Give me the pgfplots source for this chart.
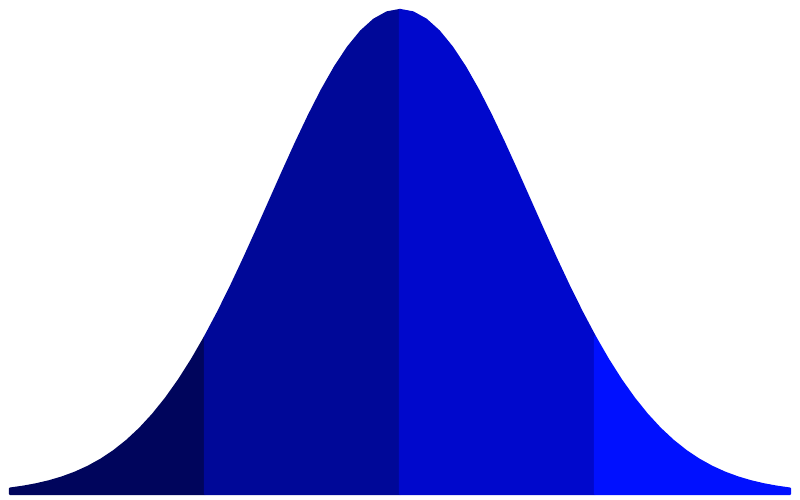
\documentclass[border=0pt]{standalone}
\usepackage{pgfplots}
\pgfplotsset{compat=1.18}

\definecolor{tailL}{HTML}{00055C}
\definecolor{midL}{HTML}{000898}
\definecolor{midR}{HTML}{0008CC}
\definecolor{tailR}{HTML}{0010FF}

\begin{document}
\begin{tikzpicture}
\begin{axis}[
    scale only axis,
    width=10cm, height=6.25cm,
    hide axis,
    xmin=-3.0769, xmax=3.0769,
    ymin=-0.0124, ymax=1.0207,
    clip=false,
]
% left tail (x < -1.5)
\addplot[fill=tailL, draw=tailL, line width=0.8pt, line join=round] coordinates {
    (-3.0,0.01111) (-2.9,0.01492) (-2.8,0.01984) (-2.7,0.02612) (-2.6,0.03405)
    (-2.5,0.04394) (-2.4,0.05613) (-2.3,0.07100) (-2.2,0.08892) (-2.1,0.11025)
    (-2.0,0.13534) (-1.9,0.16447) (-1.8,0.19790) (-1.7,0.23575) (-1.6,0.27804)
    (-1.5,0.32465)
} \closedcycle;
% left middle (-1.5 .. 0)
\addplot[fill=midL, draw=midL, line width=0.8pt, line join=round] coordinates {
    (-1.5,0.32465) (-1.4,0.37531) (-1.3,0.42956) (-1.2,0.48675) (-1.1,0.54607)
    (-1.0,0.60653) (-0.9,0.66698) (-0.8,0.72615) (-0.7,0.78270) (-0.6,0.83527)
    (-0.5,0.88250) (-0.4,0.92312) (-0.3,0.95600) (-0.2,0.98020) (-0.1,0.99501)
    (0.0,1.00000)
} \closedcycle;
% right middle (0 .. 1.5)
\addplot[fill=midR, draw=midR, line width=0.8pt, line join=round] coordinates {
    (0.0,1.00000) (0.1,0.99501) (0.2,0.98020) (0.3,0.95600) (0.4,0.92312)
    (0.5,0.88250) (0.6,0.83527) (0.7,0.78270) (0.8,0.72615) (0.9,0.66698)
    (1.0,0.60653) (1.1,0.54607) (1.2,0.48675) (1.3,0.42956) (1.4,0.37531)
    (1.5,0.32465)
} \closedcycle;
% right tail (x > 1.5)
\addplot[fill=tailR, draw=tailR, line width=0.8pt, line join=round] coordinates {
    (1.5,0.32465) (1.6,0.27804) (1.7,0.23575) (1.8,0.19790) (1.9,0.16447)
    (2.0,0.13534) (2.1,0.11025) (2.2,0.08892) (2.3,0.07100) (2.4,0.05613)
    (2.5,0.04394) (2.6,0.03405) (2.7,0.02612) (2.8,0.01984) (2.9,0.01492)
    (3.0,0.01111)
} \closedcycle;
\path[draw=none] (rel axis cs:0,0) rectangle (rel axis cs:1,1);
\end{axis}
\end{tikzpicture}
\end{document}
